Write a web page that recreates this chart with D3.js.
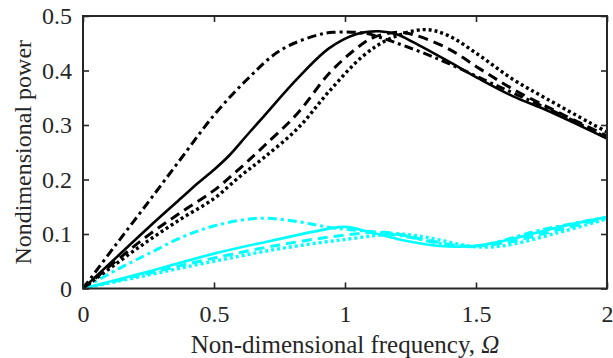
<!DOCTYPE html>
<html lang="en">
  <head>
    <meta charset="UTF-8" />
    <title>Nondimensional power</title>
    <script src="https://cdn.jsdelivr.net/npm/d3@7"></script>
    <style>
      body { margin: 0; background: #fff; }
      svg text { font-family: "Liberation Serif", "Times New Roman", serif; fill: #262626; }
    </style>
  </head>
  <body>
    <svg id="chart" width="613" height="358"></svg>
    <script>
      // values: [frequency, power]
      var blackSolid = [[0,0],[0.125,0.056],[0.25,0.112],[0.375,0.166],[0.44,0.194],[0.5,0.218],[0.56,0.245],[0.62,0.278],[0.69,0.316],[0.82,0.386],[0.94,0.441],[1.045,0.467],[1.13,0.472],[1.2,0.466],[1.26,0.452],[1.39,0.418],[1.515,0.384],[1.64,0.353],[1.77,0.327],[1.9,0.298],[2,0.275]];
      var blackDashed = [[0,0],[0.125,0.05],[0.25,0.098],[0.375,0.14],[0.5,0.18],[0.6,0.221],[0.69,0.261],[0.82,0.322],[0.94,0.395],[1.045,0.441],[1.11,0.461],[1.2,0.47],[1.26,0.466],[1.39,0.441],[1.515,0.403],[1.64,0.366],[1.79,0.329],[1.9,0.303],[2,0.28]];
      var blackDotted = [[0,0],[0.125,0.045],[0.25,0.088],[0.375,0.128],[0.5,0.165],[0.6,0.206],[0.69,0.24],[0.82,0.294],[0.94,0.362],[1.07,0.427],[1.17,0.458],[1.3,0.475],[1.39,0.465],[1.515,0.427],[1.64,0.384],[1.77,0.348],[1.935,0.304],[2,0.287]];
      var blackDashDot = [[0,0],[0.125,0.08],[0.25,0.159],[0.375,0.239],[0.5,0.318],[0.625,0.383],[0.75,0.436],[0.88,0.463],[0.955,0.47],[1.08,0.468],[1.145,0.459],[1.336,0.425],[1.59,0.37],[1.85,0.313],[2,0.276]];
      var cyanSolid = [[0,0],[0.25,0.031],[0.5,0.064],[0.76,0.092],[0.93,0.109],[1.0,0.113],[1.107,0.102],[1.236,0.087],[1.36,0.078],[1.49,0.078],[1.62,0.089],[1.81,0.112],[2,0.131]];
      var cyanDashed = [[0,0],[0.25,0.028],[0.5,0.056],[0.75,0.08],[1.0,0.098],[1.15,0.103],[1.3,0.09],[1.45,0.078],[1.6,0.083],[1.8,0.106],[2,0.13]];
      var cyanDotted = [[0,0],[0.25,0.025],[0.5,0.05],[0.75,0.073],[1.0,0.09],[1.2,0.1],[1.31,0.094],[1.49,0.077],[1.6,0.078],[1.81,0.102],[2,0.128]];
      var cyanDashDot = [[0,0],[0.127,0.034],[0.255,0.065],[0.382,0.095],[0.51,0.116],[0.675,0.129],[0.828,0.122],[0.955,0.111],[1.107,0.104],[1.236,0.095],[1.36,0.083],[1.49,0.077],[1.6,0.088],[1.745,0.107],[2,0.131]];

      var xTicks = [0, 0.5, 1, 1.5, 2];
      var yTicks = [0, 0.1, 0.2, 0.3, 0.4, 0.5];

      var plotLeft = 83, plotRight = 607, plotTop = 16, plotBottom = 288.5;
      var serif = "'Liberation Serif', 'Times New Roman', serif";
      var svg = d3.select("#chart");

      var xScale = d3.scaleLinear().domain([0, 2]).range([plotLeft, plotRight]);
      var yScale = d3.scaleLinear().domain([0, 0.5]).range([plotBottom, plotTop]);

      svg.append("clipPath").attr("id", "plot")
        .append("rect")
        .attr("x", plotLeft).attr("y", plotTop)
        .attr("width", plotRight - plotLeft).attr("height", plotBottom - plotTop);

      var line = d3.line()
        .x(function(d) { return xScale(d[0]); })
        .y(function(d) { return yScale(d[1]); })
        .curve(d3.curveCatmullRom.alpha(0.5));

      var series = [
        { data: cyanDotted, color: "#00ffff", dash: "3,3", w: 3.4 },
        { data: cyanDashed, color: "#00ffff", dash: "10,6", w: 3 },
        { data: cyanDashDot, color: "#00ffff", dash: "9,4,3,4", w: 3 },
        { data: cyanSolid, color: "#00ffff", dash: null, w: 2.6 },
        { data: blackDotted, color: "#000", dash: "3,3", w: 3.4 },
        { data: blackDashed, color: "#000", dash: "10,6", w: 3 },
        { data: blackDashDot, color: "#000", dash: "9,4,3,4", w: 3 },
        { data: blackSolid, color: "#000", dash: null, w: 2.6 }
      ];

      svg.append("g").attr("clip-path", "url(#plot)")
        .selectAll("path")
        .data(series)
        .enter()
        .append("path")
        .attr("d", function(d) { return line(d.data); })
        .attr("fill", "none")
        .attr("stroke", function(d) { return d.color; })
        .attr("stroke-width", function(d) { return d.w; })
        .attr("stroke-dasharray", function(d) { return d.dash; });

      // axes with inward ticks on all four sides
      var axisColor = "#262626";
      var bottomAxis = d3.axisBottom(xScale).tickValues(xTicks).tickSize(-6).tickPadding(16)
        .tickFormat(d3.format("~g"));
      var topAxis = d3.axisTop(xScale).tickValues(xTicks).tickSize(-6).tickFormat("");
      var leftAxis = d3.axisLeft(yScale).tickValues(yTicks).tickSize(-6).tickPadding(11)
        .tickFormat(d3.format("~g"));
      var rightAxis = d3.axisRight(yScale).tickValues(yTicks).tickSize(-6).tickFormat("");

      function style(g) {
        g.attr("font-family", serif).attr("font-size", 24);
        g.select(".domain").remove();
        g.selectAll(".tick line").attr("stroke", axisColor).attr("stroke-width", 1.6);
        g.selectAll(".tick text").style("fill", axisColor);
      }

      svg.append("g").attr("transform", "translate(0," + plotBottom + ")").call(bottomAxis).call(style);
      svg.append("g").attr("transform", "translate(0," + plotTop + ")").call(topAxis).call(style);
      svg.append("g").attr("transform", "translate(" + plotLeft + ",0)").call(leftAxis).call(style);
      svg.append("g").attr("transform", "translate(" + plotRight + ",0)").call(rightAxis).call(style);

      svg.append("rect")
        .attr("x", plotLeft).attr("y", plotTop)
        .attr("width", plotRight - plotLeft).attr("height", plotBottom - plotTop)
        .attr("fill", "none")
        .attr("stroke", axisColor)
        .attr("stroke-width", 2);

      var xTitle = svg.append("text")
        .attr("x", (plotLeft + plotRight) / 2)
        .attr("y", 353)
        .attr("text-anchor", "middle")
        .attr("font-family", serif)
        .attr("font-size", 25);
      xTitle.append("tspan").text("Non-dimensional frequency, ");
      xTitle.append("tspan").attr("font-style", "italic").text("Ω");

      svg.append("text")
        .attr("transform", "translate(31," + ((plotTop + plotBottom) / 2) + ") rotate(-90)")
        .attr("text-anchor", "middle")
        .attr("font-family", serif)
        .attr("font-size", 24)
        .text("Nondimensional power");
    </script>
  </body>
</html>
